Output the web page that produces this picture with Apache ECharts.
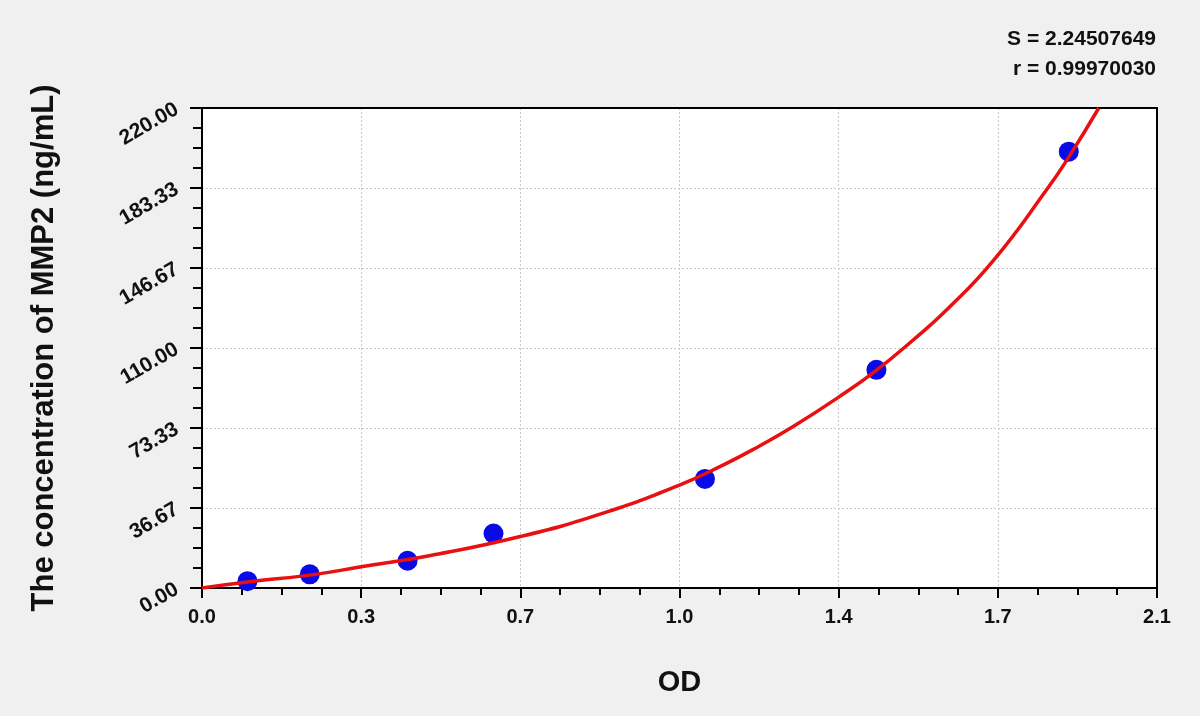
<!DOCTYPE html>
<html>
<head>
<meta charset="utf-8">
<script src="https://cdn.jsdelivr.net/npm/echarts@6/dist/echarts.min.js"></script>
<style>
html,body{margin:0;padding:0;background:#f0f0f0;}
#chart{width:1200px;height:716px;}
</style>
</head>
<body>
<div id="chart"></div>
<script>
// Standard points (OD, concentration ng/mL)
const pointOD = [0.100, 0.237, 0.452, 0.641, 1.106, 1.483, 1.906];
const pointConc = [3.125, 6.25, 12.5, 25, 50, 100, 200];
// Fitted curve
const curveOD = [0, 0.1, 0.237, 0.35, 0.5, 0.7, 0.877, 1.05, 1.15, 1.225, 1.3, 1.4, 1.48, 1.56, 1.64, 1.74, 1.86, 1.906, 1.972];
const curveConc = [0, 2.8, 5.9, 9.7, 14.8, 23.6, 34.0, 47.2, 56.8, 65.0, 74.0, 87.5, 99.3, 113, 128, 150, 183.3, 197.5, 220];
const statS = 'S = 2.24507649';
const statR = 'r = 0.99970030';
const xName = 'OD';
const yName = 'The concentration of MMP2 (ng/mL)';

const chart = echarts.init(document.getElementById('chart'));
const font = 'Liberation Sans, Arial, sans-serif';
const frameAxis = {
  type: 'value', axisLine: {show: true, onZero: false, lineStyle: {color: '#000', width: 2}},
  axisTick: {show: false}, axisLabel: {show: false}, splitLine: {show: false}
};
chart.setOption({
  backgroundColor: '#f0f0f0',
  animation: false,
  grid: {left: 202, right: 43, top: 108, bottom: 128, show: true, backgroundColor: '#ffffff', borderWidth: 0},
  xAxis: [{
    type: 'value', min: 0, max: 2.1, interval: 0.35,
    name: xName, nameLocation: 'middle', nameGap: 80,
    nameTextStyle: {fontFamily: font, fontSize: 29, fontWeight: 'bold', color: '#111'},
    axisLine: {show: true, onZero: false, lineStyle: {color: '#000', width: 2}},
    axisTick: {show: true, length: 10, lineStyle: {color: '#000', width: 2}},
    minorTick: {show: true, splitNumber: 4, length: 7, lineStyle: {color: '#000', width: 2}},
    axisLabel: {fontFamily: font, fontSize: 20, fontWeight: 'bold', color: '#111', margin: 19,
      formatter: v => (Math.floor(v * 10 + 1e-6) / 10).toFixed(1)},
    splitLine: {show: true, lineStyle: {color: '#c8c8c8', type: [2, 2], width: 1}}
  }, Object.assign({position: 'top', min: 0, max: 2.1}, frameAxis)],
  yAxis: [{
    type: 'value', min: 0, max: 220, interval: 220 / 6,
    name: yName, nameLocation: 'middle', nameGap: 142,
    nameTextStyle: {fontFamily: font, fontSize: 31, fontWeight: 'bold', color: '#111'},
    axisLine: {show: true, onZero: false, lineStyle: {color: '#000', width: 2}},
    axisTick: {show: true, length: 12, lineStyle: {color: '#000', width: 2}},
    minorTick: {show: true, splitNumber: 4, length: 9, lineStyle: {color: '#000', width: 2}},
    axisLabel: {fontFamily: font, fontSize: 21, fontWeight: 'bold', color: '#111', rotate: 30, margin: 25,
      formatter: v => v.toFixed(2)},
    splitLine: {show: true, lineStyle: {color: '#c8c8c8', type: [2, 2], width: 1}}
  }, Object.assign({position: 'right', min: 0, max: 220}, frameAxis)],
  graphic: [
    {type: 'text', right: 44, top: 29, style: {text: statS, fontFamily: font, fontSize: 21, fontWeight: 'bold', fill: '#111', textAlign: 'right'}},
    {type: 'text', right: 44, top: 59, style: {text: statR, fontFamily: font, fontSize: 21, fontWeight: 'bold', fill: '#111', textAlign: 'right'}}
  ],
  series: [
    {
      type: 'scatter', data: pointOD.map((x, i) => [x, pointConc[i]]),
      symbol: 'circle', symbolSize: 20, itemStyle: {color: '#0a0ae6', opacity: 1}, z: 2
    },
    {
      type: 'line', data: curveOD.map((x, i) => [x, curveConc[i]]),
      smooth: 0.5, showSymbol: false, lineStyle: {color: '#e81010', width: 3.5}, z: 3, clip: true
    }
  ]
});
</script>
</body>
</html>
